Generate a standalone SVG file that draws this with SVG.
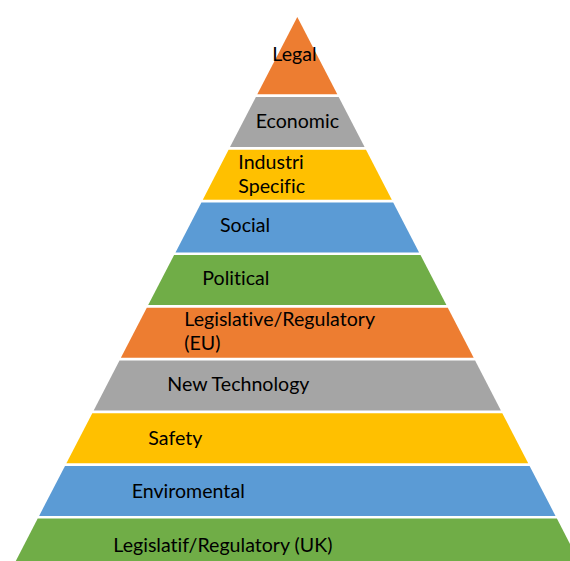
<svg xmlns="http://www.w3.org/2000/svg" width="570" height="561" viewBox="0 0 570 561">
<style>
.orange{fill:#ED7D31}.gray{fill:#A5A5A5}.yellow{fill:#FFC000}.blue{fill:#5B9BD5}.green{fill:#70AD47}
text{font-family:Lato,"Open Sans","Liberation Sans",sans-serif;font-size:19.6px;fill:#000;font-variant-ligatures:none}
</style>
<rect width="570" height="561" fill="#fff"/>
<g id="legal"><polygon class="orange" points="297.3,17 337.3,94.3 257.3,94.3"/><text x="272.3" y="60.7">Legal</text></g>
<g id="economic"><polygon class="gray" points="255.9,97 338.7,97 364.6,147 230,147"/><text x="255.7" y="127.7">Economic</text></g>
<g id="industri"><polygon class="yellow" points="228.6,149.7 366,149.7 391.8,199.7 202.8,199.7"/><text x="238.3" y="169">Industri</text><text x="238.3" y="192.7">Specific</text></g>
<g id="social"><polygon class="blue" points="201.4,202.4 393.2,202.4 419.1,252.4 175.5,252.4"/><text x="220" y="232.3">Social</text></g>
<g id="political"><polygon class="green" points="174.1,255.1 420.5,255.1 446.4,305.1 148.2,305.1"/><text x="202.3" y="285">Political</text></g>
<g id="legislative-eu"><polygon class="orange" points="146.8,307.8 447.8,307.8 473.7,357.8 120.9,357.8"/><text x="184.3" y="326.3">Legislative/Regulatory</text><text x="184.3" y="350">(EU)</text></g>
<g id="new-technology"><polygon class="gray" points="119.5,360.5 475.1,360.5 500.9,410.5 93.7,410.5"/><text x="167.3" y="390.7">New Technology</text></g>
<g id="safety"><polygon class="yellow" points="92.3,413.2 502.3,413.2 528.2,463.2 66.4,463.2"/><text x="148.3" y="445">Safety</text></g>
<g id="enviromental"><polygon class="blue" points="65,465.9 529.6,465.9 555.5,515.9 39.1,515.9"/><text x="131.7" y="497.7">Enviromental</text></g>
<g id="legislatif-uk"><polygon class="green" points="37.7,518.6 556.9,518.6 578.8,561 15.8,561"/><text x="113.3" y="552.3">Legislatif/Regulatory (UK)</text></g>
<g id="connectors"/>
</svg>
